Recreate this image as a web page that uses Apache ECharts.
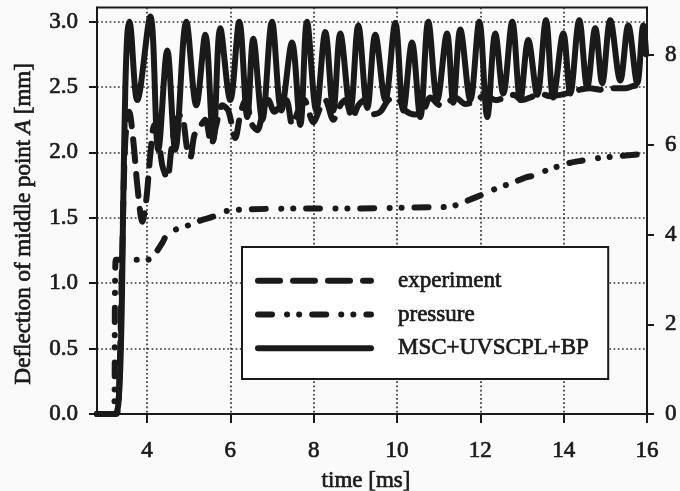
<!DOCTYPE html>
<html><head><meta charset="utf-8">
<script src="https://cdn.jsdelivr.net/npm/echarts@6/dist/echarts.min.js"></script>
<style>html,body{margin:0;padding:0;background:#fafafa}#c{width:680px;height:491px}</style>
</head><body><div id="c"></div>
<script>
// ---- data ----
const xTicks = [4, 6, 8, 10, 12, 14, 16];
const yLeftTicks = [0, 0.5, 1.0, 1.5, 2.0, 2.5, 3.0];
const yRightTicks = [0, 2, 4, 6, 8];

const expT = [2.8, 3.263, 3.335, 3.407, 3.479, 3.575, 3.671, 3.767, 3.887, 3.983, 4.079, 4.175, 4.271, 4.367, 4.487, 4.583, 4.703, 4.823, 4.967, 5.039, 5.135, 5.255, 5.399, 5.543, 5.663, 5.807, 5.951, 6.119, 6.239, 6.359, 6.527, 6.647, 6.791, 6.911, 7.055, 7.199, 7.343, 7.487, 7.631, 7.775, 7.991, 8.159, 8.279, 8.471, 8.639, 8.759, 8.927, 9.071, 9.215, 9.407, 9.599, 9.791, 9.983, 10.199, 10.439, 10.631, 10.799, 11.039, 11.207, 11.399, 11.639, 11.879, 12.119, 12.359, 12.599, 12.791, 13.007, 13.199, 13.439, 13.679, 13.918, 14.158, 14.398, 14.638, 14.878, 15.166, 15.478, 15.718, 15.958];
const expV = [0, 0, 0.26, 1.25, 2.09, 2.31, 2.09, 1.75, 1.47, 1.64, 1.98, 2.21, 2.13, 1.9, 1.8, 2.02, 2.25, 2.29, 2.02, 1.96, 2.13, 2.19, 2.25, 2.06, 2.21, 2.36, 2.32, 2.11, 2.29, 2.4, 2.21, 2.17, 2.32, 2.4, 2.31, 2.36, 2.4, 2.21, 2.32, 2.4, 2.23, 2.34, 2.4, 2.25, 2.36, 2.4, 2.26, 2.36, 2.4, 2.29, 2.31, 2.4, 2.42, 2.32, 2.29, 2.32, 2.42, 2.36, 2.38, 2.42, 2.37, 2.39, 2.44, 2.4, 2.42, 2.44, 2.4, 2.42, 2.45, 2.43, 2.44, 2.46, 2.48, 2.49, 2.48, 2.49, 2.49, 2.51, 2.5];

const presT = [2.8, 3.19, 3.22, 3.25, 4.03, 4.2, 4.37, 4.51, 5.04, 5.28, 5.59, 5.83, 6.31, 7.68, 8.95, 10.25, 11.28, 11.52, 11.81, 12.05, 12.31, 12.79, 13.08, 13.36, 13.61, 14.16, 14.4, 14.88, 15.48, 15.96];
const presV = [0, 0, 0.3, 3.44, 3.44, 3.58, 3.82, 4.04, 4.22, 4.31, 4.4, 4.51, 4.56, 4.58, 4.58, 4.6, 4.62, 4.69, 4.8, 4.89, 5.0, 5.16, 5.27, 5.33, 5.44, 5.6, 5.64, 5.71, 5.76, 5.8];

const mscT = [2.8, 3.215, 3.311, 3.383, 3.431, 3.479, 3.527, 3.575, 3.767, 4.079, 4.271, 4.487, 4.679, 4.943, 5.183, 5.399, 5.591, 5.759, 5.999, 6.215, 6.407, 6.551, 6.767, 7.0, 7.223, 7.48, 7.679, 7.84, 8.063, 8.279, 8.471, 8.639, 8.879, 9.071, 9.287, 9.479, 9.719, 9.959, 10.151, 10.36, 10.559, 10.751, 10.967, 11.2, 11.351, 11.519, 11.759, 11.975, 12.167, 12.359, 12.551, 12.767, 12.959, 13.151, 13.366, 13.575, 13.751, 13.991, 14.158, 14.374, 14.566, 14.758, 14.926, 15.118, 15.358, 15.55, 15.766, 15.91, 15.98];
const mscV = [0, 0, 0.07, 0.64, 1.64, 2.48, 2.9, 3.0, 2.4, 3.04, 2.02, 2.78, 2.02, 3.0, 2.36, 2.9, 2.09, 2.95, 2.4, 3.0, 2.27, 2.87, 2.25, 3.0, 2.32, 2.84, 2.21, 3.0, 2.32, 2.92, 2.32, 2.91, 2.32, 2.97, 2.34, 2.9, 2.4, 2.99, 2.32, 2.84, 2.27, 3.0, 2.4, 2.91, 2.38, 2.94, 2.4, 3.0, 2.27, 2.91, 2.45, 3.0, 2.4, 2.86, 2.44, 3.01, 2.42, 2.91, 2.45, 3.01, 2.5, 2.95, 2.53, 3.01, 2.55, 2.97, 2.53, 2.97, 2.75];

const seriesNames = ['experiment', 'pressure', 'MSC+UVSCPL+BP'];

// ---- chart ----
const zip = (a, b) => a.map((v, i) => [v, b[i]]);
const ink = '#1a1a1a';
const FONT = '"Liberation Serif", "DejaVu Serif", serif';
const txt = { fontFamily: FONT, fontSize: 23, color: ink, textBorderColor: ink, textBorderWidth: 0.7 };
const chart = echarts.init(document.getElementById('c'));
const gridLine = { show: true, lineStyle: { color: '#333333', width: 1.7, type: [1.7, 2.5] } };

chart.setOption({
  animation: false,
  backgroundColor: '#fafafa',
  textStyle: { fontFamily: FONT },
  grid: { left: 97, right: 33, top: 7.5, bottom: 77, show: true, borderColor: ink, borderWidth: 2,
          backgroundColor: 'transparent', outerBoundsMode: 'none', containLabel: false },
  legend: {
    data: seriesNames,
    orient: 'vertical',
    left: 242, top: 247,
    padding: [22, 19, 19, 13],
    itemGap: 10,
    itemWidth: 113, itemHeight: 14,
    backgroundColor: '#ffffff',
    borderColor: ink, borderWidth: 2, borderRadius: 0,
    lineStyle: { width: 6 },
    itemStyle: { opacity: 0 },
    textStyle: Object.assign({}, txt, { lineHeight: 23, padding: [0, 0, 0, 22] })
  },
  xAxis: {
    type: 'value', min: 2.8, max: 16,
    name: 'time [ms]', nameLocation: 'middle', nameGap: 55,
    nameTextStyle: Object.assign({}, txt, { padding: [0, 12, 0, 0] }),
    axisLine: { show: true, lineStyle: { color: ink, width: 2 } },
    axisTick: { show: true, inside: false, length: 9, lineStyle: { color: ink, width: 2 }, customValues: xTicks },
    axisLabel: Object.assign({ customValues: xTicks, margin: 25, formatter: v => String(v) }, txt),
    splitLine: gridLine
  },
  yAxis: [
    {
      type: 'value', min: 0, max: 3.108, position: 'left',
      name: '{n|Deflection of middle point }{i|A}{n| [mm]}', nameLocation: 'middle', nameGap: 62,
      nameTextStyle: { padding: [0, 26, 0, 0], rich: {
        n: Object.assign({}, txt),
        i: Object.assign({}, txt, { fontStyle: 'italic' }) } },
      axisLine: { show: true, lineStyle: { color: ink, width: 2 } },
      axisTick: { show: true, inside: false, length: 8, lineStyle: { color: ink, width: 2 }, customValues: yLeftTicks },
      axisLabel: Object.assign({ customValues: yLeftTicks, margin: 19, formatter: v => v.toFixed(1) }, txt),
      splitLine: gridLine
    },
    {
      type: 'value', min: 0, max: 9.06, position: 'right',
      axisLine: { show: true, lineStyle: { color: ink, width: 2 } },
      axisTick: { show: true, inside: false, length: 7, lineStyle: { color: ink, width: 2 }, customValues: yRightTicks },
      axisLabel: Object.assign({ customValues: yRightTicks, margin: 18, formatter: v => String(v) }, txt),
      splitLine: { show: false }
    }
  ],
  series: [
    {
      name: seriesNames[0], type: 'line', yAxisIndex: 0, symbol: 'none', smooth: 0.3,
      data: zip(expT, expV),
      lineStyle: { color: ink, width: 6, type: [22, 13], cap: 'round', join: 'round' },
      itemStyle: { color: ink }, z: 2
    },
    {
      name: seriesNames[1], type: 'line', yAxisIndex: 1, symbol: 'none', smooth: 0.2,
      data: zip(presT, presV),
      lineStyle: { color: ink, width: 6, type: [14, 15, 0.1, 12, 0.1, 13], cap: 'round', join: 'round' },
      itemStyle: { color: ink }, z: 3
    },
    {
      name: seriesNames[2], type: 'line', yAxisIndex: 0, symbol: 'none', smooth: 0.35,
      data: zip(mscT, mscV),
      lineStyle: { color: ink, width: 6, cap: 'round', join: 'round' },
      itemStyle: { color: ink }, z: 4
    }
  ]
});
</script></body></html>
